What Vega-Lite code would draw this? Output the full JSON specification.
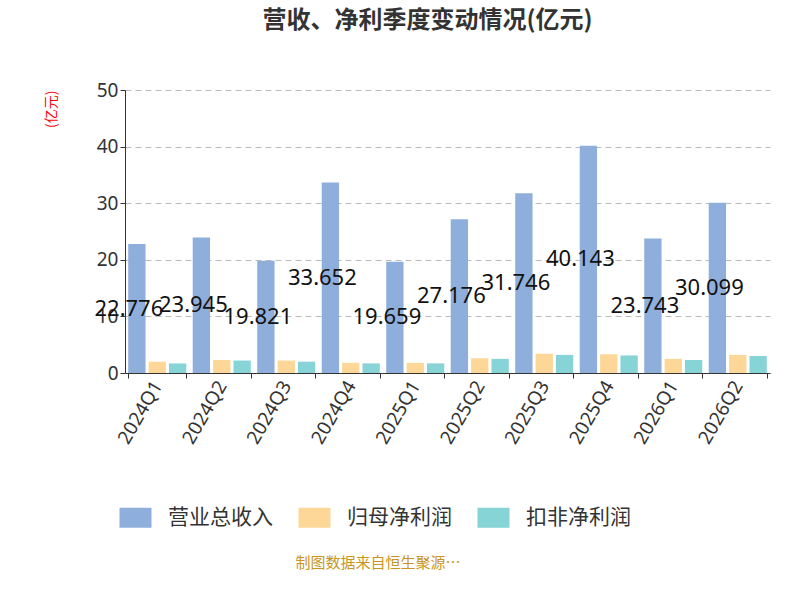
{
  "$schema": "https://vega.github.io/schema/vega-lite/v6.json",
  "width": 645,
  "height": 283,
  "autosize": {"type": "none"},
  "padding": {"left": 125, "top": 90, "right": 30, "bottom": 227},
  "title": {"text": "营收、净利季度变动情况(亿元)", "fontSize": 24, "font": "Noto Sans CJK SC", "fontWeight": "bold", "color": "#333333", "offset": 48, "dx": -20},
  "config": {"font": "Noto Sans CJK SC", "view": {"stroke": null}},
  "data": {"values": [
    {"q": "2024Q1", "s": "营业总收入", "v": 22.776}, {"q": "2024Q1", "s": "归母净利润", "v": 2.0}, {"q": "2024Q1", "s": "扣非净利润", "v": 1.7},
    {"q": "2024Q2", "s": "营业总收入", "v": 23.945}, {"q": "2024Q2", "s": "归母净利润", "v": 2.3}, {"q": "2024Q2", "s": "扣非净利润", "v": 2.2},
    {"q": "2024Q3", "s": "营业总收入", "v": 19.821}, {"q": "2024Q3", "s": "归母净利润", "v": 2.2}, {"q": "2024Q3", "s": "扣非净利润", "v": 2.0},
    {"q": "2024Q4", "s": "营业总收入", "v": 33.652}, {"q": "2024Q4", "s": "归母净利润", "v": 1.8}, {"q": "2024Q4", "s": "扣非净利润", "v": 1.7},
    {"q": "2025Q1", "s": "营业总收入", "v": 19.659}, {"q": "2025Q1", "s": "归母净利润", "v": 1.8}, {"q": "2025Q1", "s": "扣非净利润", "v": 1.7},
    {"q": "2025Q2", "s": "营业总收入", "v": 27.176}, {"q": "2025Q2", "s": "归母净利润", "v": 2.6}, {"q": "2025Q2", "s": "扣非净利润", "v": 2.5},
    {"q": "2025Q3", "s": "营业总收入", "v": 31.746}, {"q": "2025Q3", "s": "归母净利润", "v": 3.4}, {"q": "2025Q3", "s": "扣非净利润", "v": 3.2},
    {"q": "2025Q4", "s": "营业总收入", "v": 40.143}, {"q": "2025Q4", "s": "归母净利润", "v": 3.3}, {"q": "2025Q4", "s": "扣非净利润", "v": 3.1},
    {"q": "2026Q1", "s": "营业总收入", "v": 23.743}, {"q": "2026Q1", "s": "归母净利润", "v": 2.5}, {"q": "2026Q1", "s": "扣非净利润", "v": 2.3},
    {"q": "2026Q2", "s": "营业总收入", "v": 30.099}, {"q": "2026Q2", "s": "归母净利润", "v": 3.2}, {"q": "2026Q2", "s": "扣非净利润", "v": 3.0}
  ]},
  "encoding": {
    "x": {"field": "q", "type": "nominal", "title": null, "scale": {"paddingInner": 0.1, "paddingOuter": 0.05},
      "axis": {"labelAngle": -60, "labelFontSize": 19, "labelFont": "Noto Sans", "labelColor": "#333333", "domainColor": "#333333", "tickColor": "#333333", "tickBand": "extent", "labelPadding": 4}},
    "xOffset": {"field": "s", "type": "nominal", "sort": ["营业总收入", "归母净利润", "扣非净利润"], "scale": {"paddingInner": 0.15}}
  },
  "layer": [
    {
      "mark": {"type": "bar"},
      "encoding": {
        "y": {"field": "v", "type": "quantitative", "scale": {"domain": [0, 50]},
          "axis": {"values": [0, 10, 20, 30, 40, 50], "labelFontSize": 19, "labelFont": "Noto Sans", "labelColor": "#333333", "gridDash": [6, 4], "gridColor": "#bbbbbb", "domain": true, "domainColor": "#333333", "ticks": true, "tickColor": "#333333",
            "title": "(亿元)", "titleColor": "red", "titleFontSize": 14, "titleFontWeight": "normal", "titleAngle": -90, "titleAnchor": "end", "titlePadding": 38, "titleY": 0, "titleAlign": "right"}},
        "color": {"field": "s", "type": "nominal", "sort": ["营业总收入", "归母净利润", "扣非净利润"],
          "scale": {"domain": ["营业总收入", "归母净利润", "扣非净利润"], "range": ["#8eaedb", "#fdd797", "#86d4d6"]},
          "legend": {"orient": "bottom", "direction": "horizontal", "title": "制图数据来自恒生聚源数据库", "titleOrient": "bottom", "titleAnchor": "middle", "titleColor": "#c8961e", "titleFontSize": 15, "titleFontWeight": "normal", "titlePadding": 28,
            "symbolType": "M-1.6,-1 L1.6,-1 L1.6,1 L-1.6,1 Z", "symbolSize": 400, "symbolStrokeWidth": 0, "labelFontSize": 21, "labelColor": "#333333", "columnPadding": 25, "labelOffset": 22, "offset": 60}}
      }
    },
    {
      "transform": [{"filter": "datum.s === '营业总收入'"}, {"calculate": "datum.v / 2", "as": "half"}],
      "mark": {"type": "text", "fontSize": 22, "font": "Noto Sans", "color": "#111111", "dx": -8},
      "encoding": {
        "y": {"field": "half", "type": "quantitative"},
        "text": {"field": "v", "type": "quantitative", "format": ".3~f"}
      }
    }
  ]
}
